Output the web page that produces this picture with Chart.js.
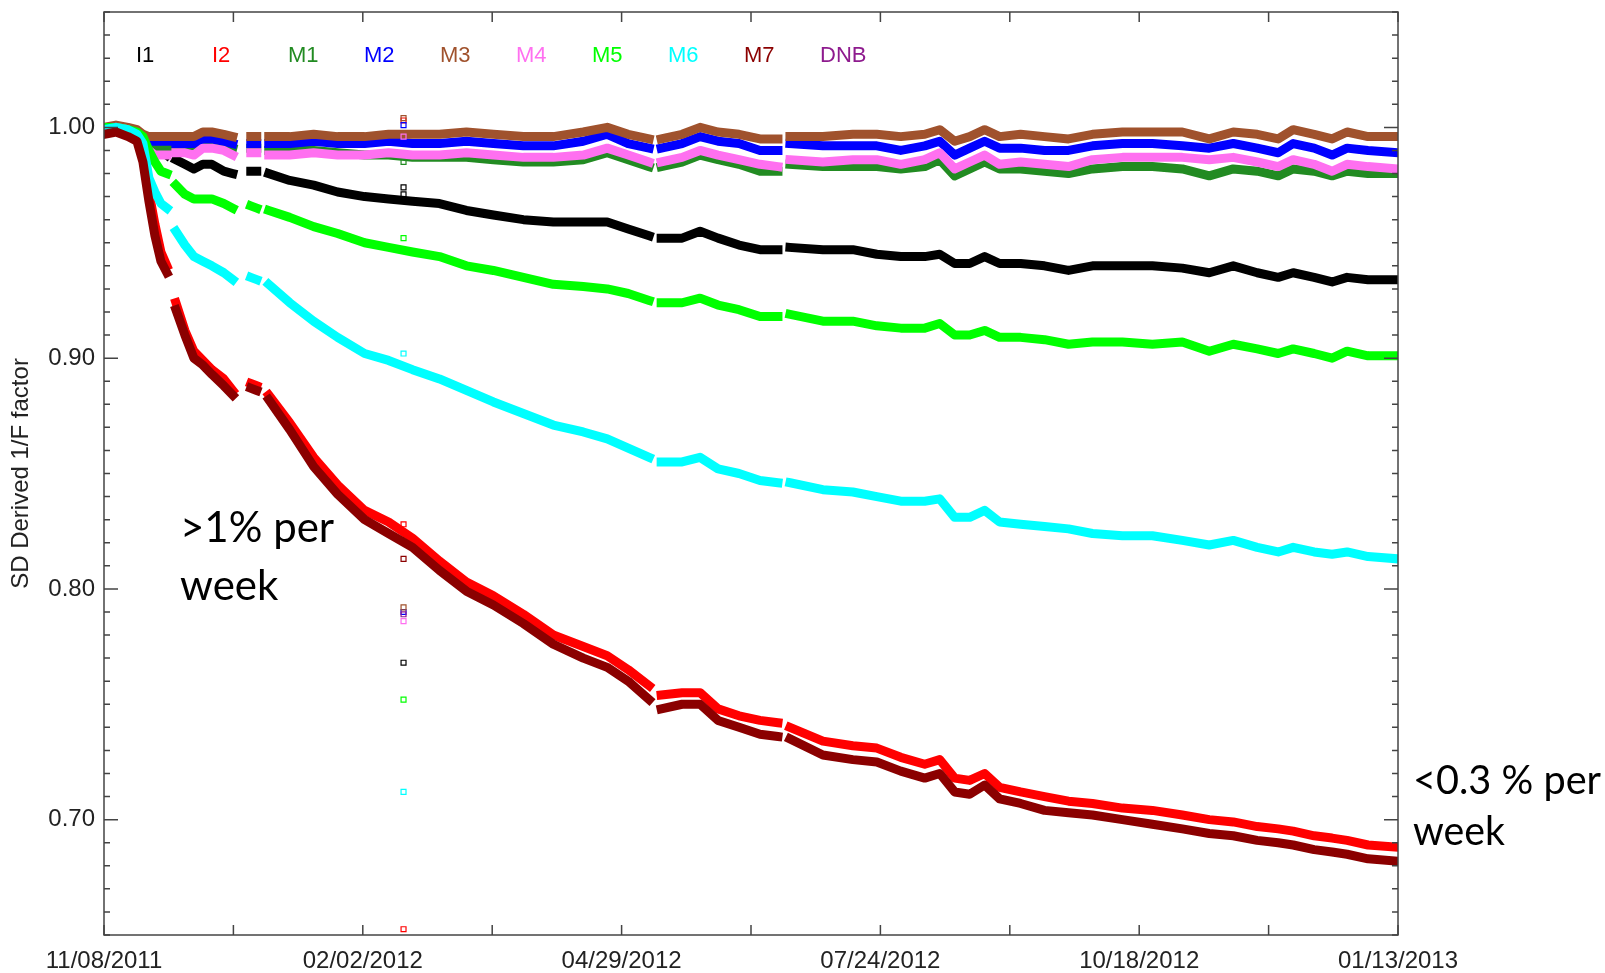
<!DOCTYPE html>
<html>
<head>
<meta charset="utf-8">
<script src="https://cdn.jsdelivr.net/npm/chart.js@4.4.1/dist/chart.umd.min.js"></script>
<style>
  html, body { margin: 0; padding: 0; background: #fff; }
  canvas { display: block; }
</style>
</head>
<body>
<canvas id="sdChart" width="1605" height="973"></canvas>
<script>
// days since 11/08/2011; a null value marks a gap in the record
const days = [
  0, 4, 8, 11, 13, 15, 17, 19, 21, 22.5,
  24, 27, 30, 33, 36, 40, 43, 46, 49, 51,
  52.5, 55, 62, 70, 78, 87, 95, 103, 112, 121,
  130, 140, 150, 160, 168, 175, 182, 184, 186, 193,
  199, 205, 212, 219, 225, 227, 229, 240, 250, 258,
  266, 274, 279, 284, 289, 294, 299, 306, 314, 322,
  330, 340, 350, 360, 369, 377, 385, 392, 397, 404,
  410, 415, 422, 432
];

const bandNames = ['I1', 'I2', 'M1', 'M2', 'M3', 'M4', 'M5', 'M6', 'M7', 'DNB'];
const bandColors = ['#000000', '#ff0000', '#228b22', '#0000ff', '#a0522d', '#ff70f0', '#00ff00', '#00ffff', '#8b0000', '#8e1b8e'];

const i1 = [
  1.000, 1.000, 0.999, 0.997, 0.995, 0.993, 0.991, 0.990, 0.988, null,
  0.986, 0.984, 0.982, 0.984, 0.984, 0.981, 0.980, null, 0.981, 0.981,
  null, 0.980, 0.977, 0.975, 0.972, 0.970, 0.969, 0.968, 0.967, 0.964,
  0.962, 0.960, 0.959, 0.959, 0.959, 0.956, 0.953, null, 0.952, 0.952,
  0.955, 0.952, 0.949, 0.947, 0.947, null, 0.948, 0.947, 0.947, 0.945,
  0.944, 0.944, 0.945, 0.941, 0.941, 0.944, 0.941, 0.941, 0.940, 0.938,
  0.940, 0.940, 0.940, 0.939, 0.937, 0.940, 0.937, 0.935, 0.937, 0.935,
  0.933, 0.935, 0.934, 0.934
];
const i2 = [
  0.999, 0.999, 0.998, 0.996, 0.988, 0.972, 0.958, 0.946, 0.940, null,
  0.924, 0.912, 0.903, 0.899, 0.895, 0.891, 0.886, null, 0.889, 0.888,
  null, 0.884, 0.872, 0.857, 0.845, 0.834, 0.829, 0.822, 0.812, 0.803,
  0.797, 0.789, 0.780, 0.775, 0.771, 0.765, 0.758, null, 0.754, 0.755,
  0.755, 0.748, 0.745, 0.743, 0.742, null, 0.740, 0.734, 0.732, 0.731,
  0.727, 0.724, 0.726, 0.718, 0.717, 0.720, 0.714, 0.712, 0.710, 0.708,
  0.707, 0.705, 0.704, 0.702, 0.700, 0.699, 0.697, 0.696, 0.695, 0.693,
  0.692, 0.691, 0.689, 0.688
];
const m1 = [
  0.999, 1.000, 0.999, 0.997, 0.995, 0.992, 0.991, 0.991, 0.991, null,
  0.991, 0.991, 0.991, 0.993, 0.993, 0.992, 0.991, null, 0.991, 0.991,
  null, 0.990, 0.990, 0.990, 0.989, 0.988, 0.988, 0.987, 0.987, 0.987,
  0.986, 0.985, 0.985, 0.986, 0.989, 0.986, 0.983, null, 0.983, 0.985,
  0.988, 0.986, 0.984, 0.981, 0.981, null, 0.984, 0.983, 0.983, 0.983,
  0.982, 0.983, 0.986, 0.979, 0.982, 0.985, 0.982, 0.982, 0.981, 0.980,
  0.982, 0.983, 0.983, 0.982, 0.979, 0.982, 0.981, 0.979, 0.982, 0.981,
  0.979, 0.981, 0.980, 0.980
];
const m2 = [
  0.999, 1.000, 0.999, 0.998, 0.996, 0.994, 0.994, 0.994, 0.994, null,
  0.993, 0.993, 0.993, 0.995, 0.995, 0.994, 0.993, null, 0.993, 0.993,
  null, 0.993, 0.993, 0.994, 0.993, 0.993, 0.994, 0.993, 0.993, 0.994,
  0.993, 0.992, 0.992, 0.994, 0.997, 0.993, 0.991, null, 0.991, 0.993,
  0.996, 0.994, 0.993, 0.990, 0.990, null, 0.993, 0.992, 0.992, 0.992,
  0.990, 0.992, 0.994, 0.988, 0.991, 0.994, 0.991, 0.991, 0.990, 0.990,
  0.992, 0.993, 0.993, 0.992, 0.991, 0.993, 0.991, 0.989, 0.993, 0.991,
  0.988, 0.991, 0.990, 0.989
];
const m3 = [
  1.000, 1.001, 1.000, 0.999, 0.997, 0.996, 0.996, 0.996, 0.996, null,
  0.996, 0.996, 0.996, 0.998, 0.998, 0.997, 0.996, null, 0.996, 0.996,
  null, 0.996, 0.996, 0.997, 0.996, 0.996, 0.997, 0.997, 0.997, 0.998,
  0.997, 0.996, 0.996, 0.998, 1.000, 0.997, 0.995, null, 0.995, 0.997,
  1.000, 0.998, 0.997, 0.995, 0.995, null, 0.996, 0.996, 0.997, 0.997,
  0.996, 0.997, 0.999, 0.994, 0.996, 0.999, 0.996, 0.997, 0.996, 0.995,
  0.997, 0.998, 0.998, 0.998, 0.995, 0.998, 0.997, 0.995, 0.999, 0.997,
  0.995, 0.998, 0.996, 0.996
];
const m4 = [
  0.999, 1.000, 0.999, 0.997, 0.994, 0.990, 0.988, 0.988, 0.988, null,
  0.989, 0.989, 0.988, 0.991, 0.991, 0.990, 0.988, null, 0.989, 0.989,
  null, 0.988, 0.988, 0.989, 0.988, 0.988, 0.989, 0.988, 0.988, 0.989,
  0.988, 0.987, 0.987, 0.988, 0.991, 0.988, 0.985, null, 0.985, 0.987,
  0.990, 0.988, 0.986, 0.984, 0.983, null, 0.986, 0.985, 0.986, 0.986,
  0.984, 0.986, 0.989, 0.982, 0.985, 0.988, 0.984, 0.985, 0.984, 0.983,
  0.986, 0.987, 0.987, 0.987, 0.986, 0.987, 0.985, 0.983, 0.986, 0.984,
  0.981, 0.984, 0.983, 0.982
];
const m5 = [
  1.000, 1.000, 0.999, 0.998, 0.996, 0.990, 0.985, 0.981, 0.980, null,
  0.975, 0.971, 0.969, 0.969, 0.969, 0.967, 0.965, null, 0.966, 0.965,
  null, 0.964, 0.961, 0.957, 0.954, 0.950, 0.948, 0.946, 0.944, 0.940,
  0.938, 0.935, 0.932, 0.931, 0.930, 0.928, 0.925, null, 0.924, 0.924,
  0.926, 0.923, 0.921, 0.918, 0.918, null, 0.919, 0.916, 0.916, 0.914,
  0.913, 0.913, 0.915, 0.910, 0.910, 0.912, 0.909, 0.909, 0.908, 0.906,
  0.907, 0.907, 0.906, 0.907, 0.903, 0.906, 0.904, 0.902, 0.904, 0.902,
  0.900, 0.903, 0.901, 0.901
];
const m6 = [
  0.999, 1.000, 0.999, 0.997, 0.993, 0.978, 0.972, 0.967, 0.965, null,
  0.955, 0.949, 0.944, 0.942, 0.940, 0.937, 0.934, null, 0.935, 0.934,
  null, 0.932, 0.924, 0.916, 0.909, 0.902, 0.899, 0.895, 0.891, 0.886,
  0.881, 0.876, 0.871, 0.868, 0.865, 0.861, 0.857, null, 0.855, 0.855,
  0.857, 0.852, 0.850, 0.847, 0.846, null, 0.846, 0.843, 0.842, 0.840,
  0.838, 0.838, 0.839, 0.831, 0.831, 0.834, 0.829, 0.828, 0.827, 0.826,
  0.824, 0.823, 0.823, 0.821, 0.819, 0.821, 0.818, 0.816, 0.818, 0.816,
  0.815, 0.816, 0.814, 0.813
];
const m7 = [
  0.997, 0.998, 0.996, 0.994, 0.985, 0.968, 0.953, 0.942, 0.937, null,
  0.921, 0.910, 0.900, 0.897, 0.893, 0.888, 0.884, null, 0.887, 0.886,
  null, 0.882, 0.869, 0.853, 0.841, 0.830, 0.824, 0.818, 0.808, 0.799,
  0.793, 0.785, 0.776, 0.770, 0.766, 0.760, 0.752, null, 0.748, 0.750,
  0.750, 0.743, 0.740, 0.737, 0.736, null, 0.735, 0.728, 0.726, 0.725,
  0.721, 0.718, 0.720, 0.712, 0.711, 0.715, 0.709, 0.707, 0.704, 0.703,
  0.702, 0.700, 0.698, 0.696, 0.694, 0.693, 0.691, 0.690, 0.689, 0.687,
  0.686, 0.685, 0.683, 0.682
];
const dnb = []; // no trend visible for DNB, only the glitch point

// stray points on one bad day
const glitchDay = 100;
const glitchI1 = [0.974, 0.971, 0.768];
const glitchI2 = [1.003, 0.828, 0.6525];
const glitchM1 = [0.985];
const glitchM2 = [1.001, 0.790];
const glitchM3 = [1.004, 0.792];
const glitchM4 = [0.996, 0.786];
const glitchM5 = [0.952, 0.752];
const glitchM6 = [0.902, 0.712];
const glitchM7 = [0.813];
const glitchDNB = [0.789];

const xTickDays = [0, 86.4, 172.8, 259.2, 345.6, 432];
const xTickLabels = ['11/08/2011', '02/02/2012', '04/29/2012', '07/24/2012', '10/18/2012', '01/13/2013'];
const yTickValues = [0.70, 0.80, 0.90, 1.00];

const trends = [i1, i2, m1, m2, m3, m4, m5, m6, m7, dnb];
const glitches = [glitchI1, glitchI2, glitchM1, glitchM2, glitchM3, glitchM4, glitchM5, glitchM6, glitchM7, glitchDNB];

const datasets = [];
trends.forEach((vals, i) => {
  datasets.push({
    label: bandNames[i],
    data: vals.map((v, k) => ({x: days[k], y: v})),
    borderColor: bandColors[i],
    borderWidth: 9,
    borderCapStyle: 'square',
    borderJoinStyle: 'round',
    pointRadius: 0,
    spanGaps: false,
    tension: 0,
    order: 30 - i
  });
  datasets.push({
    label: bandNames[i] + ' glitch',
    data: glitches[i].map(v => ({x: glitchDay, y: v})),
    showLine: false,
    pointStyle: 'rect',
    pointRadius: 3.5,
    borderWidth: 1.2,
    borderColor: bandColors[i],
    backgroundColor: 'rgba(0,0,0,0)',
    order: 30 - i
  });
});

const frameTicks = {
  id: 'frameTicks',
  afterDatasetsDraw(chart) {
    const {ctx, chartArea: a, scales: {x, y}} = chart;
    ctx.save();
    ctx.strokeStyle = '#444';
    ctx.lineWidth = 1.5;
    ctx.strokeRect(a.left, a.top, a.right - a.left, a.bottom - a.top);
    ctx.beginPath();
    for (let d = 0; d <= 432; d += 43.2) {
      const px = x.getPixelForValue(d);
      ctx.moveTo(px, a.bottom); ctx.lineTo(px, a.bottom - 10);
      ctx.moveTo(px, a.top); ctx.lineTo(px, a.top + 10);
    }
    for (let k = 65; k <= 105; k++) {
      const py = y.getPixelForValue(k / 100);
      const len = k % 10 === 0 ? 14 : 6;
      ctx.moveTo(a.left, py); ctx.lineTo(a.left + len, py);
      ctx.moveTo(a.right, py); ctx.lineTo(a.right - len, py);
    }
    ctx.stroke();
    ctx.restore();
  }
};

const bandLegend = {
  id: 'bandLegend',
  afterDraw(chart) {
    const {ctx, chartArea} = chart;
    ctx.save();
    ctx.font = '22px "Liberation Sans", Arial, sans-serif';
    ctx.textBaseline = 'middle';
    bandNames.forEach((n, i) => {
      ctx.fillStyle = bandColors[i];
      ctx.fillText(n, chartArea.left + 32 + i * 76, chartArea.top + 44);
    });
    ctx.restore();
  }
};

const notes = {
  id: 'notes',
  afterDraw(chart) {
    const ctx = chart.ctx;
    ctx.save();
    ctx.fillStyle = '#000';
    ctx.textBaseline = 'alphabetic';
    ctx.font = '42px Lato, "Open Sans", sans-serif';
    ctx.fillText('>1% per', 180, 542, 160);
    ctx.fillText('week', 180, 600, 104);
    ctx.font = '40px Lato, "Open Sans", sans-serif';
    ctx.fillText('<0.3 % per', 1413, 794, 188);
    ctx.fillText('week', 1413, 845, 92);
    ctx.restore();
  }
};

Chart.defaults.font.family = '"Liberation Sans", Arial, sans-serif';
Chart.defaults.color = '#222';

new Chart(document.getElementById('sdChart'), {
  type: 'line',
  data: { datasets: datasets },
  options: {
    responsive: false,
    animation: false,
    devicePixelRatio: 1,
    layout: { padding: { top: 12, right: 207, bottom: 0, left: 0 } },
    plugins: {
      legend: { display: false },
      tooltip: { enabled: false }
    },
    scales: {
      x: {
        type: 'linear',
        min: 0,
        max: 432,
        grid: { display: false, drawTicks: false },
        border: { display: false },
        afterBuildTicks: s => { s.ticks = xTickDays.map(v => ({value: v})); },
        afterFit: s => { s.height = 38; },
        ticks: {
          autoSkip: false,
          maxRotation: 0,
          padding: 12,
          font: { size: 24 },
          callback: (v, i) => xTickLabels[i]
        }
      },
      y: {
        type: 'linear',
        min: 0.65,
        max: 1.05,
        grid: { display: false, drawTicks: false },
        border: { display: false },
        afterBuildTicks: s => { s.ticks = yTickValues.map(v => ({value: v})); },
        afterFit: s => { s.width = 104; s.paddingTop = 0; s.paddingBottom = 0; },
        title: {
          display: true,
          text: 'SD Derived 1/F factor',
          font: { size: 24 },
          color: '#222',
          padding: { top: 7, bottom: 0 }
        },
        ticks: {
          padding: 9,
          font: { size: 24 },
          callback: v => Number(v).toFixed(2)
        }
      }
    }
  },
  plugins: [frameTicks, bandLegend, notes]
});
</script>
</body>
</html>
